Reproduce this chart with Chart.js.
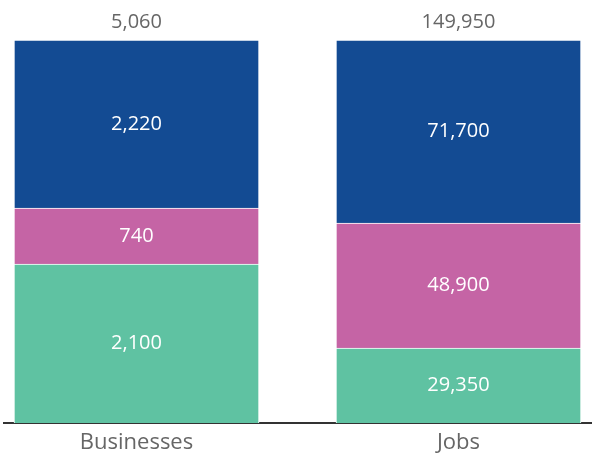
<!DOCTYPE html>
<html>
<head>
<meta charset="utf-8">
<script src="https://cdn.jsdelivr.net/npm/chart.js@4/dist/chart.umd.min.js"></script>
<style>
  html, body { margin: 0; padding: 0; background: #fff; }
  #wrap { width: 592px; height: 453px; position: relative; }
</style>
</head>
<body>
<div id="wrap"><canvas id="chart"></canvas></div>
<script>
// Categories and segment values (bottom to top)
const categories = ['Businesses', 'Jobs'];
const greenValues = [2100, 29350];
const pinkValues = [740, 48900];
const blueValues = [2220, 71700];
const totals = [5060, 149950];

const FONT = '"Open Sans", sans-serif';
const fmt = n => n.toLocaleString('en-US');

// share of each column total, so both bars reach the same height
const share = (vals) => vals.map((v, i) => ({ x: i, y: v / totals[i] * 100, raw: v }));

// writes segment values inside the bars and totals on top
const labelPlugin = {
  id: 'barLabels',
  afterDatasetsDraw(chart) {
    const ctx = chart.ctx;
    ctx.save();
    ctx.textAlign = 'center';
    ctx.textBaseline = 'middle';
    ctx.font = '20px ' + FONT;
    chart.data.datasets.forEach((ds, di) => {
      chart.getDatasetMeta(di).data.forEach((bar, i) => {
        const mid = (bar.y + bar.base) / 2;
        ctx.fillStyle = '#ffffff';
        ctx.fillText(fmt(ds.data[i].raw), bar.x, mid);
      });
    });
    const top = chart.getDatasetMeta(chart.data.datasets.length - 1).data;
    ctx.fillStyle = '#666666';
    top.forEach((bar, i) => {
      ctx.fillText(fmt(totals[i]), bar.x, bar.y - 18);
    });
    ctx.restore();
  }
};

new Chart(document.getElementById('chart'), {
  type: 'bar',
  data: {
    datasets: [
      { label: 'green', data: share(greenValues), backgroundColor: '#5fc2a2' },
      { label: 'pink', data: share(pinkValues), backgroundColor: '#c564a5' },
      { label: 'blue', data: share(blueValues), backgroundColor: '#134b93' }
    ].map(d => Object.assign(d, { borderColor: '#ffffff', borderWidth: 1, barThickness: 245 }))
  },
  options: {
    responsive: true,
    maintainAspectRatio: false,
    animation: false,
    layout: { padding: { top: 40, left: 4, right: 0, bottom: -10 } },
    plugins: {
      legend: { display: false },
      tooltip: { enabled: false }
    },
    scales: {
      x: {
        type: 'linear',
        stacked: true,
        offset: false,
        bounds: 'data',
        min: -0.4115,
        max: 1.4146,
        afterBuildTicks: axis => { axis.ticks = [{ value: 0 }, { value: 1 }]; },
        grid: { display: false, drawTicks: false, offset: false },
        border: { display: true, color: '#333333', width: 2 },
        ticks: {
          color: '#666666',
          padding: 9,
          font: { family: FONT, size: 22, lineHeight: 1 },
          callback: v => categories[v]
        }
      },
      y: {
        stacked: true,
        display: false,
        min: 0,
        max: 100
      }
    }
  },
  plugins: [labelPlugin]
});
</script>
</body>
</html>
